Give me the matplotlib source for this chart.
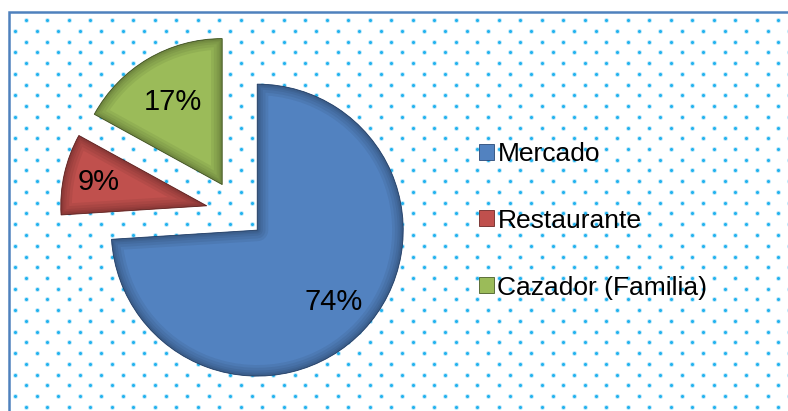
"""Exploded pie: destino de la carne (Mercado / Restaurante / Cazador)."""

import numpy as np
import matplotlib.pyplot as plt
from matplotlib.patches import Rectangle, Wedge

plt.rcParams["font.family"] = ["Liberation Sans", "DejaVu Sans"]

# ---------------------------------------------------------------------------
# Data
# ---------------------------------------------------------------------------
LABELS = ["Mercado", "Restaurante", "Cazador (Familia)"]
SHARES = [74, 9, 17]

# ---------------------------------------------------------------------------
# Style
# ---------------------------------------------------------------------------
COLORS = ["#5282C0", "#C0504D", "#9BBB59"]
EDGES = ["#2A4A78", "#6E2826", "#4A5E28"]
EXPLODE = [25, 33, 33]          # pixels, pie is drawn in pixel units
PCT_DIST = [0.72, 0.76, 0.66]   # label distance per slice (fraction of radius)
W, H = 788, 411
RADIUS = 146
DOT = "#22B2EE"
HALO = "#C4EAFB"
BORDER = "#4F81BD"


def main():
    fig = plt.figure(figsize=(W / 100, H / 100), dpi=100)
    fig.patch.set_facecolor("white")
    ax = fig.add_axes([0, 0, 1, 1])

    # dotted chart-area fill (staggered grid)
    xs, ys = [], []
    for i, y in enumerate(np.arange(20, H + 6, 10.75)):
        x0 = 26 if i % 2 == 0 else 15.25
        row = np.arange(x0, W + 6, 21.5)
        xs.extend(row)
        ys.extend([H - y] * len(row))
    ax.scatter(xs, ys, s=13, color=HALO, linewidths=0, zorder=1)
    ax.scatter(xs, ys, s=5, color=DOT, linewidths=0, zorder=1.1)

    # chart border (only top/left fall inside the picture)
    ax.add_patch(Rectangle((9, -20), W + 40, H - 11.5 + 20, fill=False,
                           edgecolor=BORDER, linewidth=1.8, zorder=5))

    wedges, _, pcts = ax.pie(
        SHARES, explode=EXPLODE, colors=COLORS, startangle=90,
        counterclock=False, center=(239, H - 213), radius=RADIUS,
        autopct="%.0f%%", pctdistance=0.7,
        textprops=dict(fontsize=21, color="black"),
        wedgeprops=dict(linewidth=0.6, zorder=3),
    )
    for w, ec, t, d in zip(wedges, EDGES, pcts, PCT_DIST):
        w.set_edgecolor(ec)
        # soft bevel: stacked translucent rims darken toward the edge
        for lw in (16, 12, 8, 5, 3):
            rim = Wedge(w.center, w.r, w.theta1, w.theta2, fill=False,
                        edgecolor="black", linewidth=lw, alpha=0.06,
                        joinstyle="round", zorder=3.5)
            ax.add_patch(rim)
            rim.set_clip_path(w)
        mid = np.deg2rad((w.theta1 + w.theta2) / 2)
        cx, cy = w.center
        t.set_position((cx + d * w.r * np.cos(mid), cy + d * w.r * np.sin(mid)))
        t.set_zorder(6)

    ax.legend(wedges, LABELS, loc="upper left",
              bbox_to_anchor=(479 / W, 1 - 142 / H),
              frameon=False, prop=dict(size=19),
              handlelength=0.55, handleheight=0.55, handletextpad=0.15,
              labelspacing=1.62, borderpad=0, borderaxespad=0)

    ax.set_xlim(0, W)
    ax.set_ylim(0, H)
    ax.set_aspect("equal")
    ax.axis("off")

    fig.savefig("out.png", dpi=100, facecolor="white")
    plt.close(fig)


if __name__ == "__main__":
    main()
